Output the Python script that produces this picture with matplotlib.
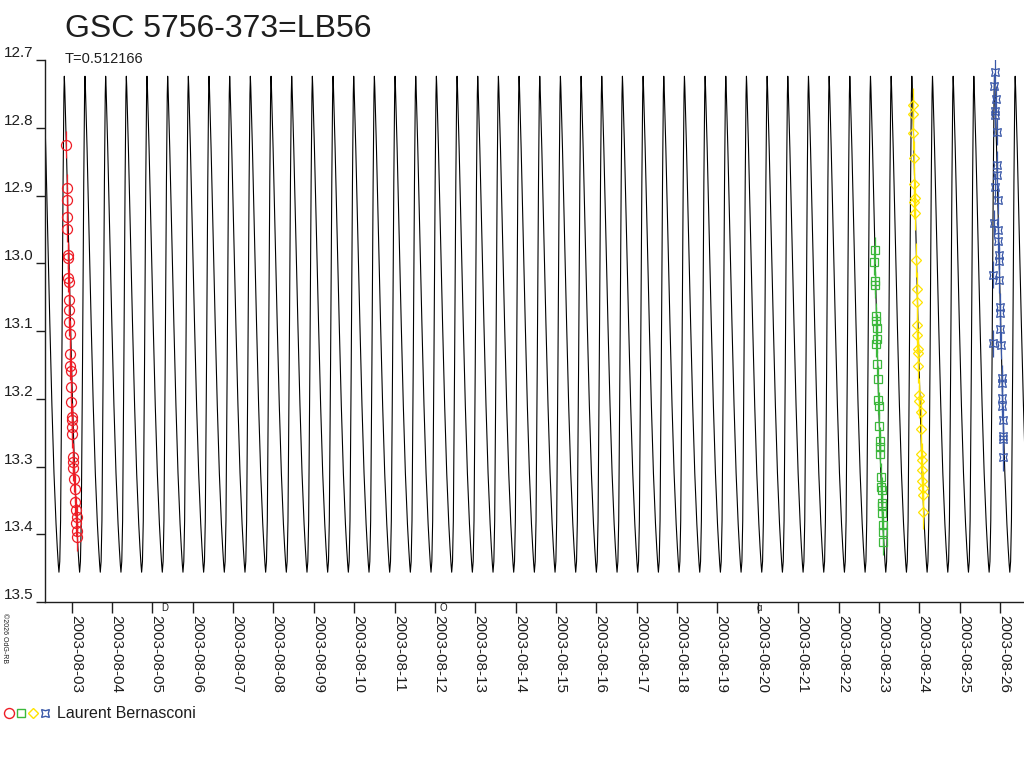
import numpy as np
import matplotlib
matplotlib.use("Agg")
import matplotlib.pyplot as plt
from matplotlib.lines import Line2D
from matplotlib.legend_handler import HandlerTuple
from matplotlib.transforms import ScaledTranslation

plt.rcParams['font.family'] = ['Liberation Sans', 'DejaVu Sans']

# ---------------- data ----------------
title = "GSC 5756-373=LB56"
period_label = "T=0.512166"
period = 0.512166          # days
epoch_max = 8.451          # day of August 2003 of one light maximum

# light-curve template (one cycle, phase from maximum)
template_phase = [0.00, 0.02, 0.10, 0.20, 0.30, 0.40, 0.50, 0.60, 0.66, 0.71,
                  0.74, 0.78, 0.82, 0.88, 0.94, 0.98, 1.00]
template_mag = [12.724, 12.740, 12.830, 12.960, 13.090, 13.210, 13.310, 13.385,
                13.420, 13.445, 13.456, 13.440, 13.380, 13.150, 12.880, 12.750, 12.724]

# observations (time = day of August 2003, UT)
red_t = [2.859, 2.876, 2.891, 2.891, 2.891, 2.908, 2.916, 2.916, 2.926, 2.933,
         2.941, 2.941, 2.958, 2.958, 2.958, 2.975, 2.983, 2.990, 3.000, 3.000,
         3.007, 3.015, 3.025, 3.032, 3.040, 3.057, 3.082, 3.082, 3.099, 3.124,
         3.107, 3.124, 3.124]
red_mag = [12.825, 12.889, 12.907, 12.932, 12.949, 12.988, 12.992, 13.022, 13.028, 13.054,
           13.069, 13.087, 13.104, 13.134, 13.152, 13.159, 13.183, 13.205, 13.227, 13.231,
           13.242, 13.252, 13.286, 13.293, 13.302, 13.318, 13.333, 13.352, 13.364, 13.375,
           13.383, 13.395, 13.404]

green_t = [22.903, 22.886, 22.896, 22.896, 22.921, 22.921, 22.945, 22.945, 22.928, 22.945,
           22.970, 22.985, 23.010, 23.002, 23.027, 23.027, 23.027, 23.052, 23.052, 23.069,
           23.069, 23.077, 23.077, 23.094, 23.109, 23.094]
green_mag = [12.981, 12.998, 13.026, 13.032, 13.078, 13.085, 13.095, 13.112, 13.119, 13.148,
             13.171, 13.202, 13.210, 13.240, 13.262, 13.271, 13.281, 13.315, 13.330, 13.335,
             13.354, 13.359, 13.369, 13.386, 13.396, 13.411]

yellow_t = [23.852, 23.852, 23.837, 23.870, 23.877, 23.894, 23.877, 23.894, 23.919, 23.936,
            23.936, 23.951, 23.951, 23.976, 23.976, 23.976, 24.001, 24.001, 24.036, 24.036,
            24.036, 24.060, 24.060, 24.075, 24.085, 24.085, 24.100]
yellow_mag = [12.766, 12.780, 12.808, 12.845, 12.883, 12.904, 12.909, 12.926, 12.995, 13.038,
              13.057, 13.091, 13.106, 13.126, 13.133, 13.152, 13.194, 13.204, 13.219, 13.245,
              13.281, 13.290, 13.305, 13.322, 13.332, 13.342, 13.367]

blue_t = [25.877, 25.859, 25.894, 25.877, 25.877, 25.919, 25.919, 25.934, 25.877, 25.958,
          25.852, 25.958, 25.958, 25.983, 25.983, 25.834, 25.983, 26.000, 26.000, 26.000,
          25.834, 26.018, 26.043, 26.043, 26.058, 26.058, 26.068, 26.083, 26.083, 26.083]
blue_mag = [12.717, 12.739, 12.758, 12.776, 12.781, 12.806, 12.855, 12.870, 12.887, 12.907,
            12.941, 12.951, 12.967, 12.988, 12.996, 13.017, 13.024, 13.064, 13.074, 13.097,
            13.118, 13.121, 13.170, 13.177, 13.199, 13.211, 13.231, 13.255, 13.260, 13.286]

mag_err = [0.02, 0.02, 0.025, 0.02]   # red, green, yellow, blue

tick_days = list(range(3, 27))
tick_labels = [f"2003-08-{d:02d}" for d in tick_days]
ytick_vals = [12.7, 12.8, 12.9, 13.0, 13.1, 13.2, 13.3, 13.4, 13.5]
ytick_labels = ["12.7", "12.8", "12.9", "13.0", "13.1", "13.2", "13.3", "13.4", "13.5"]

moon_days = [5.31, 12.20, 20.03]
moon_symbols = ["D", "O", "\u0251"]

observer = "Laurent Bernasconi"
credit = "\u00a92026 OdG-RB"

colors = ["#ee1c25", "#3cb83c", "#ffe400", "#3a58a8"]
ink = "#1e1e1e"

# ---------------- figure ----------------
W, H = 1024, 768
fig = plt.figure(figsize=(W / 100, H / 100), dpi=100)
ax = fig.add_axes([45 / W, 1 - 602 / H, 1 - 45 / W, (602 - 60) / H])
ax.set_xlim(2.3385, 26.5955)
ax.set_ylim(13.5, 12.7)

# model light curve: tile template over cycles
curve_t, curve_m = [], []
for n in range(-13, 38):
    for k, (ph, m) in enumerate(zip(template_phase, template_mag)):
        if n > -13 and k == 0:
            continue
        curve_t.append(epoch_max + (n + ph) * period)
        curve_m.append(m)
ax.plot(curve_t, curve_m, color="#000000", lw=0.8, zorder=2)

# observations
series = [(red_t, red_mag, 'o', 7.2), (green_t, green_mag, 's', 5.4),
          (yellow_t, yellow_mag, 'D', 5.6), (blue_t, blue_mag, (4, 1, 45), 8.0)]
handles = []
for (t, m, mk, ms), c, e in zip(series, colors, mag_err):
    ax.errorbar(t, m, yerr=e, fmt='none', ecolor=c, elinewidth=0.9, capsize=0, zorder=3)
    ax.plot(t, m, linestyle='none', marker=mk, markersize=ms, markerfacecolor='none',
            markeredgecolor=c, markeredgewidth=0.9, zorder=4)
    handles.append(Line2D([], [], linestyle='none', marker=mk, markersize=ms,
                          markerfacecolor='none', markeredgecolor=c, markeredgewidth=1.0))

# axes styling
for s in ['top', 'right']:
    ax.spines[s].set_visible(False)
for s in ['left', 'bottom']:
    ax.spines[s].set_color(ink)
    ax.spines[s].set_linewidth(1.0)

ax.set_yticks(ytick_vals)
ax.set_yticklabels(ytick_labels, fontsize=11, color=ink)
ax.tick_params(axis='y', direction='out', length=6.5, width=1.0, color=ink, pad=2)
for lab in ax.get_yticklabels():
    lab.set_verticalalignment('bottom')

ax.set_xticks(tick_days)
ax.set_xticklabels(tick_labels, rotation=270, ha='left', va='top', fontsize=11, color=ink)
ax.tick_params(axis='x', direction='out', length=7.9, width=1.0, color=ink, pad=1.5)
off = ScaledTranslation(-2 / 72, 0, fig.dpi_scale_trans)
for lab in ax.get_xticklabels():
    lab.set_transform(lab.get_transform() + off)

# moon phase symbols
for d, sym in zip(moon_days, moon_symbols):
    ax.text(d, -0.011, sym, transform=ax.get_xaxis_transform(), ha='center', va='center',
            fontsize=7, color=ink, clip_on=False)

# titles
fig.text(65 / W, 1 - 37 / H, title, fontsize=23, ha='left', va='baseline', color=ink)
fig.text(65 / W, 1 - 63 / H, period_label, fontsize=10.5, ha='left', va='baseline', color=ink)

# legend
fig.legend(handles=[tuple(handles)], labels=[observer],
           handler_map={tuple: HandlerTuple(ndivide=None, pad=0)},
           loc='center left', bbox_to_anchor=(3 / W, 1 - 714 / H), bbox_transform=fig.transFigure,
           frameon=False, borderpad=0, borderaxespad=0, handlelength=3.0, handletextpad=0.4,
           fontsize=11.5, labelcolor=ink)

fig.text(1 / W, 1 - 613 / H, credit, rotation=270, fontsize=5, ha='left', va='top', color=ink)

fig.savefig("out.png", dpi=100)
